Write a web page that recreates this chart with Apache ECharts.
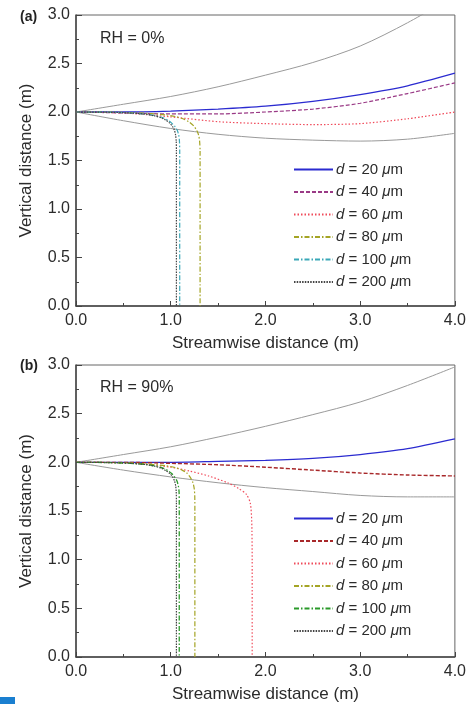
<!DOCTYPE html>
<html><head><meta charset="utf-8">
<script src="https://cdn.jsdelivr.net/npm/echarts@6/dist/echarts.min.js"></script>
<style>html,body{margin:0;padding:0;background:#fff}#c{width:469px;height:704px}</style>
</head><body><div id="c"></div>
<script>
// ---- data (x = streamwise distance m, y = vertical distance m) ----
const sizes = ['20', '40', '60', '80', '100', '200'];
const xTickLabels = ['0.0', '1.0', '2.0', '3.0', '4.0'];
const yTickLabels = ['0.0', '0.5', '1.0', '1.5', '2.0', '2.5', '3.0'];

// Panel (a) RH = 0%
const a_envUp  = [[0,2.0],[0.5,2.08],[1.0,2.16],[1.5,2.26],[2.0,2.38],[2.5,2.51],[3.0,2.68],[3.5,2.92],[4.0,3.2]];
const a_envLow = [[0,2.0],[0.5,1.91],[1.0,1.83],[1.5,1.77],[2.0,1.73],[2.5,1.71],[3.0,1.70],[3.5,1.72],[4.0,1.78]];
const a_d20  = [[0,2.0],[0.5,2.0],[1.0,2.01],[1.5,2.03],[2.0,2.06],[2.5,2.11],[3.0,2.18],[3.5,2.27],[4.0,2.40]];
const a_d40  = [[0,2.0],[0.5,1.99],[1.0,1.98],[1.5,1.98],[2.0,2.0],[2.5,2.03],[3.0,2.09],[3.5,2.19],[4.0,2.30]];
const a_d60  = [[0,2.0],[0.5,1.99],[1.0,1.95],[1.5,1.90],[2.0,1.88],[2.5,1.87],[3.0,1.88],[3.5,1.93],[4.0,2.0]];
const a_d80  = [[0,2.0],[0.4,1.998],[0.6,1.993],[0.8,1.983],[0.95,1.97],[1.05,1.953],[1.13,1.93],[1.19,1.90],[1.24,1.86],[1.275,1.81],[1.295,1.76],[1.305,1.70],[1.31,1.60],[1.31,0]];
const a_d100 = [[0,2.0],[0.3,1.998],[0.5,1.993],[0.65,1.985],[0.75,1.976],[0.85,1.96],[0.92,1.94],[0.97,1.915],[1.01,1.885],[1.045,1.85],[1.07,1.81],[1.085,1.76],[1.092,1.70],[1.095,1.60],[1.095,0]];
const a_d200 = [[0,2.0],[0.3,1.998],[0.5,1.993],[0.65,1.985],[0.75,1.975],[0.83,1.96],[0.9,1.94],[0.95,1.915],[0.99,1.885],[1.02,1.85],[1.04,1.81],[1.052,1.76],[1.058,1.70],[1.06,1.60],[1.06,0]];

// Panel (b) RH = 90%
const b_envUp  = [[0,2.0],[0.5,2.08],[1.0,2.16],[1.5,2.26],[2.0,2.37],[2.5,2.49],[3.0,2.62],[3.5,2.79],[4.0,2.98]];
const b_envLow = [[0,2.0],[0.5,1.92],[1.0,1.85],[1.5,1.79],[2.0,1.74],[2.5,1.70],[3.0,1.66],[3.5,1.645],[4.0,1.645]];
const b_d20  = [[0,2.0],[1.0,2.0],[1.5,2.01],[2.0,2.02],[2.5,2.04],[3.0,2.08],[3.5,2.14],[4.0,2.24]];
const b_d40  = [[0,2.0],[0.5,2.0],[1.0,1.99],[1.5,1.975],[2.0,1.95],[2.5,1.92],[3.0,1.89],[3.5,1.87],[4.0,1.86]];
const b_d60  = [[0,2.0],[0.5,1.995],[0.8,1.975],[1.0,1.95],[1.2,1.91],[1.4,1.86],[1.6,1.79],[1.72,1.73],[1.8,1.67],[1.84,1.58],[1.855,1.4],[1.86,1.0],[1.86,0]];
const b_d80  = [[0,2.0],[0.4,1.998],[0.6,1.992],[0.8,1.98],[0.95,1.965],[1.05,1.945],[1.12,1.92],[1.17,1.89],[1.21,1.84],[1.235,1.79],[1.248,1.73],[1.254,1.65],[1.255,1.5],[1.255,0]];
const b_d100 = [[0,2.0],[0.3,1.998],[0.5,1.993],[0.65,1.985],[0.75,1.976],[0.85,1.96],[0.92,1.94],[0.97,1.915],[1.01,1.885],[1.04,1.85],[1.065,1.81],[1.08,1.76],[1.088,1.70],[1.09,1.60],[1.09,0]];
const b_d200 = [[0,2.0],[0.3,1.998],[0.5,1.993],[0.65,1.985],[0.75,1.975],[0.83,1.96],[0.9,1.94],[0.95,1.915],[0.99,1.885],[1.02,1.85],[1.04,1.81],[1.052,1.76],[1.058,1.70],[1.06,1.60],[1.06,0]];

// ---- styles ----
const FONT = 'Liberation Sans';
const TXT = '#2b2b2b';
const envColor = '#9a9a9a';
const stylesA = {
  '20':  {color:'#2b2bd0', type:'solid', width:1.3},
  '40':  {color:'#9a3a86', type:[4,2], width:1.2},
  '60':  {color:'#f04a5a', type:[1.5,2], width:1.2},
  '80':  {color:'#a4a424', type:[5,2,1.5,2], width:1.2},
  '100': {color:'#3aa8b8', type:[5,2,1.5,2], width:1.2},
  '200': {color:'#444444', type:[1.5,1.2], width:1.2}
};
const stylesB = {
  '20':  {color:'#2b2bd0', type:'solid', width:1.3},
  '40':  {color:'#a8282a', type:[4,2], width:1.4},
  '60':  {color:'#f04a5a', type:[1.5,2], width:1.2},
  '80':  {color:'#a4a424', type:[5,2,1.5,2], width:1.2},
  '100': {color:'#2a9a2a', type:[5,2,1.5,2], width:1.3},
  '200': {color:'#444444', type:[1.5,1.2], width:1.2}
};
const dataA = {'20':a_d20,'40':a_d40,'60':a_d60,'80':a_d80,'100':a_d100,'200':a_d200};
const dataB = {'20':b_d20,'40':b_d40,'60':b_d60,'80':b_d80,'100':b_d100,'200':b_d200};

const grids = [
  {left:76, right:12, top:15, height:291, show:true, borderColor:'#666', borderWidth:1, backgroundColor:'transparent'},
  {left:76, right:12, top:365, height:292, show:true, borderColor:'#666', borderWidth:1, backgroundColor:'transparent'}
];

function xAxis(i){
  return {type:'value', gridIndex:i, min:0, max:4, interval:1,
    name:'Streamwise distance (m)', nameLocation:'middle', nameGap:29,
    nameTextStyle:{fontFamily:FONT, fontSize:17, color:TXT},
    axisLine:{show:true, onZero:false, lineStyle:{color:'#444', width:1.5}},
    axisTick:{show:true, inside:true, length:5, lineStyle:{color:'#444'}},
    minorTick:{show:true, splitNumber:2, length:3, lineStyle:{color:'#444'}},
    splitLine:{show:false},
    axisLabel:{fontFamily:FONT, fontSize:16, color:TXT, margin:7, formatter:v=>xTickLabels[Math.round(v)]}};
}
function yAxis(i){
  return {type:'value', gridIndex:i, min:0, max:3, interval:0.5,
    name:'Vertical distance (m)', nameLocation:'middle', nameGap:41,
    nameTextStyle:{fontFamily:FONT, fontSize:17, color:TXT},
    axisLine:{show:true, onZero:false, lineStyle:{color:'#444', width:1.5}},
    axisTick:{show:true, inside:true, length:6, lineStyle:{color:'#444'}},
    minorTick:{show:true, splitNumber:2, length:3, lineStyle:{color:'#444'}},
    splitLine:{show:false},
    axisLabel:{fontFamily:FONT, fontSize:16, color:TXT, margin:6, formatter:v=>yTickLabels[Math.round(v*2)]}};
}

const series = [];
function addPanel(idx, prefix, envUp, envLow, data, styles){
  [envUp, envLow].forEach((d,k)=>series.push({type:'line', name:prefix+'env'+k, xAxisIndex:idx, yAxisIndex:idx,
    data:d, showSymbol:false, symbol:'none', smooth:0.3, clip:true, silent:true,
    lineStyle:{color:envColor, width:1}}));
  sizes.forEach(s=>{
    const st = styles[s];
    series.push({type:'line', name:prefix+s, xAxisIndex:idx, yAxisIndex:idx, data:data[s],
      showSymbol:false, symbol:'none', smooth:0.25, clip:true, color:st.color,
      lineStyle:{color:st.color, type:st.type, width:st.width}});
  });
}
addPanel(0, 'a', a_envUp, a_envLow, dataA, stylesA);
addPanel(1, 'b', b_envUp, b_envLow, dataB, stylesB);

function legend(prefix, top){
  return {orient:'vertical', left:293, top:top, padding:0, itemWidth:39, itemHeight:14, itemGap:7.5,
    data:sizes.map(s=>prefix+s), selectedMode:false,
    itemStyle:{opacity:0},
    formatter:n=>'{i|d} = '+n.slice(1)+' {i|\u03bc}m',
    textStyle:{fontFamily:FONT, fontSize:15, color:TXT, padding:[0,0,0,-2],
      rich:{i:{fontFamily:FONT, fontSize:15, fontStyle:'italic', color:TXT}}}};
}

const chart = echarts.init(document.getElementById('c'), null, {renderer:'canvas'});
chart.setOption({
  animation:false,
  backgroundColor:'#fff',
  grid:grids,
  xAxis:[xAxis(0), xAxis(1)],
  yAxis:[yAxis(0), yAxis(1)],
  legend:[legend('a', 162), legend('b', 511)],
  series:series,
  graphic:[
    {type:'text', left:20, top:10, style:{text:'(a)', font:'bold 14px '+FONT, fill:'#222'}},
    {type:'text', left:20, top:359, style:{text:'(b)', font:'bold 14px '+FONT, fill:'#222'}},
    {type:'text', left:100, top:31, style:{text:'RH = 0%', font:'16px '+FONT, fill:TXT}},
    {type:'text', left:100, top:380, style:{text:'RH = 90%', font:'16px '+FONT, fill:TXT}},
    {type:'rect', left:0, top:697, shape:{width:15, height:7}, style:{fill:'#1a7fd0'}}
  ]
});
</script></body></html>
